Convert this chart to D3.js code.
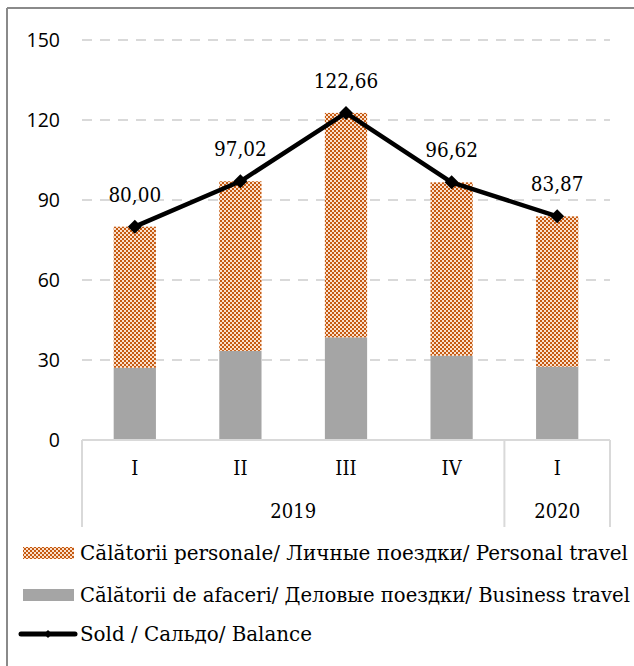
<!DOCTYPE html>
<html>
<head>
<meta charset="utf-8">
<script src="https://cdn.jsdelivr.net/npm/d3@7"></script>
<style>
  html, body { margin: 0; padding: 0; background: #fff; }
  svg { display: block; }
</style>
</head>
<body>
<div id="chart"></div>
<script>
const quarters = ["I", "II", "III", "IV", "I"];
const years = [{label: "2019", from: 0, to: 3}, {label: "2020", from: 4, to: 4}];
const business = [27.1, 33.4, 38.5, 31.6, 27.5];
const balance = [80.00, 97.02, 122.66, 96.62, 83.87];
const personal = balance.map((t, i) => +(t - business[i]).toFixed(2));
const yTicks = [0, 30, 60, 90, 120, 150];
const legendLabels = [
  "Călătorii personale/ Личные поездки/ Personal travel",
  "Călătorii de afaceri/ Деловые поездки/ Business travel",
  "Sold / Сальдо/ Balance"
];
const legendWidths = [548, 550, 232];

const W = 634, H = 666;
const serif = "'DejaVu Serif Condensed', 'DejaVu Serif', serif";
const sans = "'Open Sans', 'Noto Sans', sans-serif";

const svg = d3.select("#chart").append("svg").attr("width", W).attr("height", H);

// pattern
const defs = svg.append("defs");
const pat = defs.append("pattern").attr("id", "dots").attr("patternUnits", "userSpaceOnUse")
  .attr("width", 4).attr("height", 4);
pat.append("rect").attr("width", 4).attr("height", 4).attr("fill", "#fbe0cc");
pat.append("rect").attr("x", 0).attr("y", 0).attr("width", 2).attr("height", 2).attr("fill", "#c55a11");
pat.append("rect").attr("x", 2).attr("y", 2).attr("width", 2).attr("height", 2).attr("fill", "#c55a11");

// frame (top + left)
svg.append("line").attr("x1", 7).attr("x2", W).attr("y1", 8).attr("y2", 8).attr("stroke", "#8a8a8a").attr("stroke-width", 2);
svg.append("line").attr("x1", 7).attr("x2", 7).attr("y1", 8).attr("y2", H).attr("stroke", "#8a8a8a").attr("stroke-width", 2);

const x = d3.scaleBand().domain(d3.range(quarters.length)).range([82, 610]).padding(0);
const y = d3.scaleLinear().domain([0, 150]).range([440, 40]);
const barW = x.bandwidth() * 0.4;

// gridlines
svg.append("g").selectAll("line").data(yTicks.filter(t => t > 0)).join("line")
  .attr("x1", 82).attr("x2", 610).attr("y1", d => y(d)).attr("y2", d => y(d))
  .attr("stroke", "#d9d9d9").attr("stroke-width", 2).attr("stroke-dasharray", "10,8");

// y tick labels
svg.append("g").selectAll("text").data(yTicks).join("text")
  .attr("x", 60).attr("y", d => y(d)).attr("dy", "0.35em").attr("text-anchor", "end")
  .attr("font-family", sans).attr("font-size", 19.5).attr("fill", "#000").text(d => d);

// bars
const bars = svg.append("g");
bars.selectAll("rect.bus").data(business).join("rect").attr("class", "bus")
  .attr("x", (d, i) => x(i) + (x.bandwidth() - barW) / 2).attr("width", barW)
  .attr("y", d => y(d)).attr("height", d => y(0) - y(d)).attr("fill", "#a5a5a5");
bars.selectAll("rect.per").data(personal).join("rect").attr("class", "per")
  .attr("x", (d, i) => x(i) + (x.bandwidth() - barW) / 2).attr("width", barW)
  .attr("y", (d, i) => y(business[i] + d)).attr("height", (d, i) => y(business[i]) - y(business[i] + d))
  .attr("fill", "url(#dots)");

// category axis
const axisCol = "#d9d9d9";
svg.append("line").attr("x1", 82).attr("x2", 610).attr("y1", y(0)).attr("y2", y(0)).attr("stroke", axisCol).attr("stroke-width", 2);
const seps = [0, 4, 5];
svg.append("g").selectAll("line").data(seps).join("line")
  .attr("x1", d => d < quarters.length ? x(d) : x(quarters.length - 1) + x.bandwidth())
  .attr("x2", d => d < quarters.length ? x(d) : x(quarters.length - 1) + x.bandwidth())
  .attr("y1", y(0)).attr("y2", 527).attr("stroke", axisCol).attr("stroke-width", 2);

svg.append("g").selectAll("text").data(quarters).join("text")
  .attr("x", (d, i) => x(i) + x.bandwidth() / 2).attr("y", 475).attr("text-anchor", "middle")
  .attr("font-family", serif).attr("font-size", 20).text(d => d);
svg.append("g").selectAll("text").data(years).join("text")
  .attr("x", d => (x(d.from) + x(d.to) + x.bandwidth()) / 2).attr("y", 518).attr("text-anchor", "middle")
  .attr("font-family", serif).attr("font-size", 20).text(d => d.label);

// balance line
const cx = i => x(i) + x.bandwidth() / 2;
svg.append("path").datum(balance)
  .attr("d", d3.line().x((d, i) => cx(i)).y(d => y(d)))
  .attr("fill", "none").attr("stroke", "#000").attr("stroke-width", 4.5).attr("stroke-linejoin", "round");
const diamond = "M0,-7L7,0L0,7L-7,0Z";
svg.append("g").selectAll("path").data(balance).join("path")
  .attr("d", diamond).attr("transform", (d, i) => `translate(${cx(i)},${y(d)})`).attr("fill", "#000");

// data labels
const fmt = v => v.toFixed(2).replace(".", ",");
svg.append("g").selectAll("text").data(balance).join("text")
  .attr("x", (d, i) => cx(i)).attr("y", d => y(d) - 25).attr("text-anchor", "middle")
  .attr("font-family", serif).attr("font-size", 20.5).text(d => fmt(d));

// legend
const lg = svg.append("g");
const rows = [560, 602, 641];
lg.append("rect").attr("x", 23).attr("y", rows[0] - 13).attr("width", 51).attr("height", 12).attr("fill", "url(#dots)");
lg.append("rect").attr("x", 23).attr("y", rows[1] - 13).attr("width", 51).attr("height", 12).attr("fill", "#a5a5a5");
lg.append("line").attr("x1", 21).attr("x2", 75).attr("y1", rows[2] - 7).attr("y2", rows[2] - 7)
  .attr("stroke", "#000").attr("stroke-width", 5).attr("stroke-linecap", "round");
lg.append("path").attr("d", "M0,-4L4,0L0,4L-4,0Z").attr("transform", `translate(48,${rows[2] - 7})`).attr("fill", "#000");
lg.selectAll("text").data(legendLabels).join("text")
  .attr("x", 80).attr("y", (d, i) => rows[i]).attr("font-family", serif).attr("font-size", 20)
  .attr("textLength", (d, i) => legendWidths[i]).attr("lengthAdjust", "spacingAndGlyphs")
  .text(d => d);
</script>
</body>
</html>
